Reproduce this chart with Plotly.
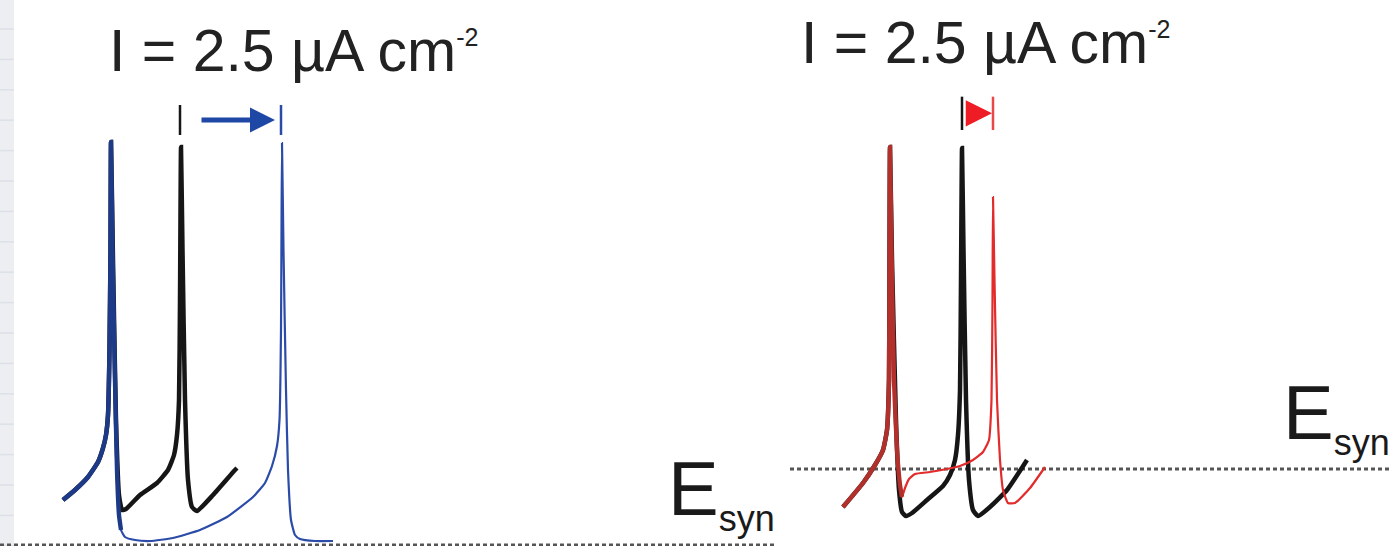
import plotly.graph_objects as go

W, H = 1389, 546

# ---------------- data (time in ms, membrane potential in mV) ----------------
# Left panel (input delays the next spike)
blue_t = [31.5, 37.5, 44, 49, 51.5, 53, 54, 54.75, 55.25, 55.5, 56.25, 57.5, 58.5, 59.5, 60.5,
          62.5, 67.5, 75, 86.5, 100, 113.5, 126.5, 132.5, 136, 138.5, 139.75, 140.5, 140.75, 141,
          141.75, 143, 144, 145.5, 147.5, 150, 157.5, 166.5]
blue_v = [-66.5, -63.5, -59.6, -55.1, -50.9, -47, -41, -21.5, 8.5, 40.9, 8.5, -30.5, -57.5, -71, -75.5,
          -77.6, -78.5, -78.8, -77.9, -75.5, -71.6, -65.6, -61.4, -56.3, -50.3, -42.5, -15.5, 14.5, 40.6,
          8.5, -33.5, -57.5, -72.5, -77, -78.2, -78.8, -78.8]
blk_left_t = [31.5, 37.5, 44, 49, 51.5, 53, 54, 54.75, 55.25, 55.5, 56.5, 58, 59.5, 61, 63, 70, 78.5,
              84, 87, 88.5, 89.5, 90, 90.5, 91.25, 92.5, 94, 96, 98.5, 106.5, 117.5, 118.5]
blk_left_v = [-66.5, -63.5, -59.6, -55.1, -50.9, -47, -41, -21.5, 8.5, 40.9, 5.5, -42.5, -65, -69.5,
              -69.2, -65, -61.4, -57.5, -53, -47, -36.5, -6.5, 39.4, 8.5, -36.5, -60.5, -68.6, -69.8,
              -65, -57.5, -56.9]

# Right panel (input advances the next spike)
red_t = [31.5, 41.5, 47.5, 51.5, 53.5, 54.5, 54.75, 55, 55.75, 57, 58.5, 60, 61, 62.5, 64.5, 67.5,
         75, 83.5, 90, 96.5, 101.5, 104.5, 105.75, 106.25, 106.5, 107.25, 108.5, 110, 111.5, 114,
         117.5, 125, 132.5]
red_v = [-68.6, -61.4, -56, -51.5, -45.5, -30.5, 5.5, 39.4, 8.5, -30.5, -51.5, -62, -65.6, -62.9,
         -60.2, -58.7, -58.1, -57.2, -56.3, -54.5, -52.1, -48.5, -36.5, -6.5, 24.4, -0.5, -36.5,
         -54.5, -63.5, -67.4, -67.4, -62.9, -56.6]
blk_right_t = [31.5, 41.5, 47.5, 51.5, 53.5, 54.5, 54.75, 55, 56, 58, 59.5, 61, 63, 66, 73.5, 81.5,
               85, 87.5, 89, 90, 90.5, 91, 91.75, 93, 94.5, 96.5, 99, 105, 113.5, 123.5]
blk_right_v = [-68.6, -61.4, -56, -51.5, -45.5, -30.5, 5.5, 39.4, 5.5, -42.5, -63.5, -70.1, -71.3,
               -70.4, -66.5, -62.3, -59, -54.5, -47, -33.5, -0.5, 39.1, 8.5, -36.5, -60.5, -69.5,
               -71.3, -68.6, -63.5, -54.5]

ESYN_LEFT = -80.0
ESYN_RIGHT = -57.2
esyn_left_t = [0, 388.5]
esyn_right_t = [5, 304.5]

# spike-time markers
tick_v = [43, 52]
tick_left_t = [90, 140.5]          # control spike, shifted spike
tick_right_t = [91, 106.5]
tick_right_v = [44.5, 54.5]
arrow_left = dict(t0=100, t1=137.5, v=47.5)
arrow_right = dict(t0=92.5, t1=106, v=49.5)

TITLE = "I = 2.5 \u00b5A cm<sup><span style='font-size:25px'>-2</span></sup>"
ESYN = "E<sub><span style='font-size:36px'>syn</span></sub>"

# ---------------- styling ----------------
BLACK = "#161616"
BLUE_THICK = "#1d3a88"
BLUE_THIN = "#2b4ba8"
BLUE_ARROW = "#1f47a6"
RED_THICK = "#b1302c"
RED_THIN = "#e22b2b"
RED_ARROW = "#ee1c24"
DOT = "#555555"
FONT = "Liberation Sans, Arial, sans-serif"

split = 780 / W

fig = go.Figure()

def line(x, y, color, width, xaxis="x", dash=None, smooth=True):
    fig.add_trace(go.Scatter(x=x, y=y, mode="lines", xaxis=xaxis, yaxis="y",
                             line=dict(color=color, width=width, dash=dash,
                                       shape="spline" if smooth else "linear",
                                       smoothing=0.45),
                             hoverinfo="skip", showlegend=False))

# Left panel
line(esyn_left_t, [ESYN_LEFT, ESYN_LEFT], DOT, 3, "x", "4px,3px", False)
line(blk_left_t, blk_left_v, BLACK, 4.5, "x")
line(blue_t, blue_v, BLUE_THIN, 2.2, "x")
line(blue_t[:15], blue_v[:15], BLUE_THICK, 4.4, "x")
line([tick_left_t[0], tick_left_t[0]], tick_v, BLACK, 2.5, "x", None, False)
line([tick_left_t[1], tick_left_t[1]], tick_v, BLUE_THIN, 2.5, "x", None, False)

# Right panel
line(esyn_right_t, [ESYN_RIGHT, ESYN_RIGHT], DOT, 3, "x2", "4px,3px", False)
line(blk_right_t, blk_right_v, BLACK, 4.5, "x2")
line(red_t, red_v, RED_THIN, 2.2, "x2")
line(red_t[:13], red_v[:13], RED_THICK, 4.4, "x2")
line([tick_right_t[0], tick_right_t[0]], tick_right_v, BLACK, 2.5, "x2", None, False)
line([tick_right_t[1], tick_right_t[1]], tick_right_v, "#e84848", 2.5, "x2", None, False)

def px(x):
    return x / W

def py(y):
    return 1 - y / H

annotations = [
    dict(x=px(107), y=py(51), xref="paper", yref="paper", text=TITLE, showarrow=False,
         xanchor="left", yanchor="middle", font=dict(family=FONT, size=59, color="#222222")),
    dict(x=px(799), y=py(43), xref="paper", yref="paper", text=TITLE, showarrow=False,
         xanchor="left", yanchor="middle", font=dict(family=FONT, size=59, color="#222222")),
    dict(x=px(666), y=py(492), xref="paper", yref="paper", text=ESYN, showarrow=False,
         xanchor="left", yanchor="middle", font=dict(family=FONT, size=76, color="#1a1a1a")),
    dict(x=px(1281), y=py(416), xref="paper", yref="paper", text=ESYN, showarrow=False,
         xanchor="left", yanchor="middle", font=dict(family=FONT, size=76, color="#1a1a1a")),
    dict(x=arrow_left["t1"], y=arrow_left["v"], xref="x", yref="y",
         ax=arrow_left["t0"], ay=arrow_left["v"], axref="x", ayref="y",
         text="", showarrow=True, arrowhead=2, arrowsize=1, arrowwidth=5,
         arrowcolor=BLUE_ARROW, standoff=0, startstandoff=0),
    dict(x=arrow_right["t1"], y=arrow_right["v"], xref="x2", yref="y",
         ax=arrow_right["t0"], ay=arrow_right["v"], axref="x2", ayref="y",
         text="", showarrow=True, arrowhead=2, arrowsize=2.1, arrowwidth=2.5,
         arrowcolor=RED_ARROW, standoff=0, startstandoff=0),
]

# faint ruled strip at the left edge (background of the source page)
shapes = [dict(type="rect", xref="paper", yref="paper", x0=0, x1=px(14), y0=0, y1=1,
               fillcolor="#eceef1", line=dict(width=0), layer="below")]
for k in range(18):
    yy = 29 + 30.4 * k
    shapes.append(dict(type="line", xref="paper", yref="paper", x0=0, x1=px(14),
                       y0=py(yy), y1=py(yy), line=dict(color="#dde1e7", width=1.5), layer="below"))

axis_off = dict(visible=False, showgrid=False, zeroline=False, fixedrange=True)
fig.update_layout(
    width=W, height=H,
    margin=dict(l=0, r=0, t=0, b=0),
    paper_bgcolor="white", plot_bgcolor="rgba(0,0,0,0)",
    xaxis=dict(domain=[0, split], range=[0, 390], anchor="y", **axis_off),
    xaxis2=dict(domain=[split, 1], range=[0, 304.5], anchor="y", **axis_off),
    yaxis=dict(domain=[0, 1], range=[-80.3, 83.5], anchor="x", **axis_off),
    annotations=annotations,
    shapes=shapes,
    showlegend=False,
)

fig.write_html("out.html", config={"displayModeBar": False})
